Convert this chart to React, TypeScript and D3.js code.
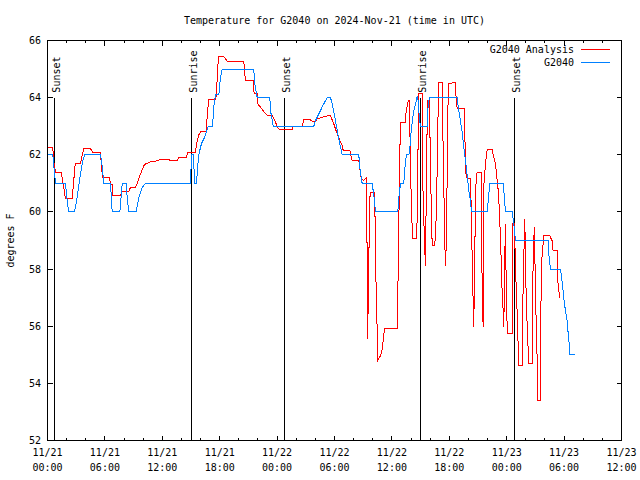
import React from "react";
import * as d3 from "d3";

// ---------- data (hours since 2024-11-21 00:00 UTC, degrees F) ----------
const analysisHours = [
  0.0, 0.55, 0.68, 0.84, 1.46, 1.57, 1.7, 1.88, 2.58, 2.72, 2.9, 3.45, 3.52, 3.79, 4.49, 4.78, 5.54, 5.64, 5.75,
  6.48, 6.59, 6.76, 6.83, 7.63, 7.77, 8.5, 8.68, 9.2, 9.38, 9.72, 10.07, 10.24, 10.77, 11.29, 11.81, 12.68, 12.86,
  13.56, 13.72, 14.53, 14.66, 15.47, 15.57, 15.81, 16.07, 16.62, 16.69, 16.86, 17.56, 17.66, 17.8, 17.91, 18.43,
  18.61, 18.78, 20.52, 20.62, 20.7, 21.5, 21.56, 21.64, 21.92, 21.98, 22.26, 22.61, 23.03, 23.49, 23.83, 24.07,
  24.35, 25.58, 25.68, 26.62, 26.79, 27.49, 27.67, 28.01, 28.19, 28.54, 29.06, 29.58, 29.76, 29.93, 30.1, 30.28,
  30.55, 30.8, 30.91, 31.6, 31.85, 32.54, 32.64, 32.79, 33.06, 33.34, 33.41, 33.47, 33.57, 33.72, 34.2, 34.31,
  34.42, 34.53, 34.63, 34.81, 34.99, 35.15, 35.23, 36.55, 36.62, 36.72, 36.82, 36.9, 37.42, 37.49, 37.73, 37.84,
  37.94, 38.15, 38.57, 38.68, 38.78, 39.17, 39.23, 39.41, 39.51, 39.62, 39.72, 39.93, 40.03, 40.21, 40.48, 40.66,
  40.8, 40.9, 41.26, 41.29, 41.42, 41.53, 41.6, 41.71, 41.84, 41.95, 42.65, 42.72, 42.82, 43.59, 43.69, 43.87,
  44.21, 44.28, 44.38, 44.49, 44.55, 44.66, 44.73, 44.91, 45.33, 45.39, 45.46, 45.54, 45.6, 45.78, 45.96, 46.48,
  46.65, 46.83, 46.93, 47.07, 47.17, 47.35, 47.53, 47.63, 47.7, 47.77, 47.87, 47.98, 48.11, 48.57, 48.64, 48.81,
  48.92, 49.09, 49.26, 49.62, 49.72, 49.89, 50.03, 50.14, 50.31, 50.67, 50.77, 50.9, 51.01, 51.18, 51.25, 51.53,
  51.56, 51.6, 51.88, 52.5, 52.65, 52.74, 52.85, 53.28, 53.34, 53.45, 53.55, 53.62,
];
const analysisTemps = [
  62.24, 62.24, 61.7, 61.38, 61.38, 61.1, 60.87, 60.46, 60.46, 61.0, 61.71, 61.71, 61.82, 62.21, 62.21, 62.07,
  62.07, 61.6, 61.22, 61.22, 60.96, 60.96, 60.58, 60.58, 60.71, 60.71, 60.87, 60.87, 61.0, 61.33, 61.62, 61.68,
  61.75, 61.78, 61.83, 61.83, 61.8, 61.8, 61.92, 61.92, 62.07, 62.07, 62.38, 62.7, 62.83, 62.83, 63.37, 63.92,
  63.92, 64.13, 65.12, 65.44, 65.44, 65.36, 65.28, 65.28, 64.83, 64.6, 64.6, 64.25, 64.13, 64.13, 63.78, 63.67,
  63.51, 63.37, 63.37, 63.14, 62.94, 62.87, 62.87, 62.99, 62.99, 63.22, 63.22, 63.18, 63.18, 63.25, 63.29, 63.35,
  63.37, 63.22, 63.08, 62.91, 62.73, 62.5, 62.33, 62.15, 62.15, 61.8, 61.8, 61.54, 61.16, 61.1, 61.2, 58.5, 55.56,
  58.1, 60.67, 60.67, 58.0, 56.4, 54.8, 54.86, 54.97, 55.2, 55.67, 55.93, 55.93, 57.13, 59.47, 61.92, 63.14, 63.14,
  63.55, 63.9, 63.9, 61.5, 59.06, 59.06, 60.2, 64.13, 64.13, 61.0, 58.88, 58.1, 61.5, 63.9, 63.9, 61.5, 58.82,
  58.82, 60.0, 63.0, 64.54, 64.54, 63.5, 61.0, 58.94, 58.12, 59.1, 63.5, 64.48, 64.54, 63.9, 63.62, 63.62, 61.4,
  61.16, 61.16, 60.28, 58.59, 56.9, 55.97, 58.0, 60.75, 61.39, 61.39, 58.6, 56.9, 55.97, 60.87, 61.68, 62.17,
  62.17, 61.92, 61.68, 61.33, 60.92, 60.46, 59.12, 57.13, 56.55, 55.97, 57.95, 59.58, 56.5, 55.73, 55.73, 59.58,
  59.58, 58.0, 56.5, 54.62, 54.62, 57.5, 59.76, 57.13, 56.0, 54.68, 54.68, 58.65, 59.47, 57.1, 54.9, 53.4, 53.4,
  54.1, 58.07, 59.17, 59.17, 59.06, 59.0, 58.65, 58.65, 57.6, 57.25, 57.02, 57.02,
];

const observedHours = [
  0.0, 0.55, 0.84, 1.88, 1.99, 2.2, 2.82, 3.1, 3.38, 3.63, 3.87, 5.54, 5.72, 5.88, 6.59, 6.76, 7.56, 7.81, 8.23,
  8.33, 8.5, 9.27, 9.54, 9.9, 10.24, 14.95, 15.05, 15.26, 15.37, 15.57, 15.68, 15.81, 16.1, 16.34, 16.8, 17.25,
  17.38, 17.56, 17.91, 18.08, 18.26, 21.56, 21.64, 21.92, 23.24, 23.31, 23.59, 27.84, 28.01, 28.36, 28.71, 29.06,
  29.24, 29.58, 29.76, 29.93, 30.1, 30.28, 30.45, 30.63, 30.8, 32.54, 32.64, 32.89, 33.94, 34.04, 34.18, 34.28,
  36.62, 36.72, 36.9, 37.24, 37.32, 37.42, 37.53, 37.77, 37.87, 37.94, 38.02, 38.12, 38.23, 38.29, 38.47, 38.64,
  38.71, 38.81, 38.92, 38.99, 39.69, 39.75, 39.86, 39.96, 42.82, 42.89, 42.99, 43.17, 43.35, 43.51, 43.69, 43.87,
  44.04, 44.21, 44.32, 45.96, 46.13, 46.23, 47.63, 47.7, 47.8, 47.91, 48.57, 48.74, 48.92, 52.34, 52.4, 52.58,
  53.62, 53.73, 53.86, 53.97, 54.14, 54.32, 54.43, 54.53, 54.6, 55.19,
];
const observedTemps = [
  62.0, 62.0, 61.0, 61.0, 60.6, 60.0, 60.0, 60.5, 61.2, 61.7, 62.0, 62.0, 61.6, 61.0, 61.0, 60.0, 60.0, 61.0, 61.0,
  60.5, 60.0, 60.0, 60.5, 60.85, 61.0, 61.0, 62.0, 62.0, 61.0, 61.0, 61.5, 62.0, 62.4, 62.55, 63.0, 63.0, 63.67,
  64.1, 64.1, 64.7, 65.0, 65.0, 64.55, 64.0, 64.0, 63.55, 63.0, 63.0, 63.2, 63.43, 63.67, 63.9, 64.0, 64.0, 63.78,
  63.49, 63.2, 62.87, 62.56, 62.27, 62.0, 62.0, 61.57, 61.0, 61.0, 60.75, 60.4, 60.0, 60.0, 60.5, 61.0, 61.0,
  61.33, 61.8, 62.0, 62.0, 62.2, 62.5, 62.85, 63.14, 63.43, 63.55, 63.78, 64.05, 64.0, 63.55, 63.14, 63.0, 63.0,
  63.55, 63.9, 64.0, 64.0, 63.8, 63.55, 63.17, 62.79, 62.27, 61.8, 61.27, 60.75, 60.4, 60.0, 60.0, 60.63, 61.0,
  61.0, 60.75, 60.28, 60.0, 60.0, 59.58, 59.0, 59.0, 58.53, 58.0, 58.0, 57.72, 57.37, 56.96, 56.55, 56.2, 55.73,
  55.38, 55.0, 55.0,
];

const eventHours = [0.77, 15.0, 24.8, 39.0, 48.85];
const eventLabels = ["Sunset", "Sunrise", "Sunset", "Sunrise", "Sunset"];

const yTicks = [52, 54, 56, 58, 60, 62, 64, 66];
const seriesNames = ["G2040 Analysis", "G2040"];
const seriesColors = ["#ff0000", "#0080ff"];
const titleText = "Temperature for G2040 on 2024-Nov-21 (time in UTC)";
const yLabelText = "degrees F";

const BASE = Date.UTC(2024, 10, 21, 0, 0);
const END = Date.UTC(2024, 10, 23, 12, 0);
const toDate = (h: number) => new Date(BASE + h * 3600000);

export default function App() {
  const W = 640;
  const H = 480;
  const left = 47.5;
  const right = 621.5;
  const top = 40.5;
  const bottom = 440.5;
  const font = "'DejaVu Sans Mono', monospace";

  const x = d3.scaleUtc().domain([new Date(BASE), new Date(END)]).range([left, right]);
  const y = d3.scaleLinear().domain([52, 66]).range([bottom, top]);

  const line = d3
    .line<[Date, number]>()
    .x((d) => x(d[0]))
    .y((d) => y(d[1]));

  const analysis: [Date, number][] = analysisHours.map((h, i) => [toDate(h), analysisTemps[i]]);
  const observed: [Date, number][] = observedHours.map((h, i) => [toDate(h), observedTemps[i]]);

  const majorX = d3.utcHour.every(6)!.range(new Date(BASE), new Date(END + 1));
  const minorX = d3.utcHour.every(2)!.range(new Date(BASE), new Date(END + 1)).filter((d) => d.getUTCHours() % 6 !== 0);
  const fmtDay = d3.utcFormat("%m/%d");
  const fmtTime = d3.utcFormat("%H:%M");
  const px = (v: number) => Math.round(v - 0.5) + 0.5;

  return (
    <svg width={W} height={H} style={{ display: "block", position: "absolute", left: 0, top: 0, background: "#fff" }}>
      <rect x={0} y={0} width={W} height={H} fill="#fff" />
      <text x={(left + right) / 2} y={24} textAnchor="middle" fontFamily={font} fontSize={10} fill="#000">
        {titleText}
      </text>
      <text
        transform={`translate(14,${(top + bottom) / 2}) rotate(-90)`}
        textAnchor="middle"
        fontFamily={font}
        fontSize={10}
        fill="#000"
      >
        {yLabelText}
      </text>

      {/* y ticks */}
      {yTicks.map((t) => (
        <g key={"y" + t}>
          <line x1={left} x2={left + 5} y1={px(y(t))} y2={px(y(t))} stroke="#000" shapeRendering="crispEdges" />
          <line x1={right - 5} x2={right} y1={px(y(t))} y2={px(y(t))} stroke="#000" shapeRendering="crispEdges" />
          <text x={41} y={y(t) + 3.5} textAnchor="end" fontFamily={font} fontSize={10} fill="#000">
            {t}
          </text>
        </g>
      ))}

      {/* x ticks */}
      {majorX.map((d, i) => (
        <g key={"xm" + i}>
          <line x1={px(x(d))} x2={px(x(d))} y1={bottom} y2={bottom - 5} stroke="#000" shapeRendering="crispEdges" />
          <line x1={px(x(d))} x2={px(x(d))} y1={top} y2={top + 5} stroke="#000" shapeRendering="crispEdges" />
          <text x={x(d)} y={456} textAnchor="middle" fontFamily={font} fontSize={10} fill="#000">
            {fmtDay(d)}
          </text>
          <text x={x(d)} y={471} textAnchor="middle" fontFamily={font} fontSize={10} fill="#000">
            {fmtTime(d)}
          </text>
        </g>
      ))}
      {minorX.map((d, i) => (
        <g key={"xn" + i}>
          <line x1={px(x(d))} x2={px(x(d))} y1={bottom} y2={bottom - 2.5} stroke="#000" shapeRendering="crispEdges" />
          <line x1={px(x(d))} x2={px(x(d))} y1={top} y2={top + 2.5} stroke="#000" shapeRendering="crispEdges" />
        </g>
      ))}

      {/* sunrise / sunset markers */}
      {eventHours.map((h, i) => {
        const ex = px(x(toDate(h)));
        return (
          <g key={"ev" + i}>
            <line x1={ex} x2={ex} y1={bottom} y2={y(64)} stroke="#000" shapeRendering="crispEdges" />
            <text
              transform={`translate(${ex + 5.5},${y(64) - 5}) rotate(-90)`}
              textAnchor="start"
              fontFamily={font}
              fontSize={10}
              fill="#000"
            >
              {eventLabels[i]}
            </text>
          </g>
        );
      })}

      {/* data */}
      <path d={line(analysis) ?? ""} fill="none" stroke={seriesColors[0]} strokeWidth={1} shapeRendering="crispEdges" />
      <path d={line(observed) ?? ""} fill="none" stroke={seriesColors[1]} strokeWidth={1} shapeRendering="crispEdges" />

      {/* legend */}
      {seriesNames.map((n, i) => (
        <g key={"lg" + i}>
          <text x={574} y={53 + i * 13} textAnchor="end" fontFamily={font} fontSize={10} fill="#000">
            {n}
          </text>
          <line x1={581} x2={610} y1={49.5 + i * 13} y2={49.5 + i * 13} stroke={seriesColors[i]} shapeRendering="crispEdges" />
        </g>
      ))}

      {/* border */}
      <rect x={left} y={top} width={right - left} height={bottom - top} fill="none" stroke="#000" shapeRendering="crispEdges" />
    </svg>
  );
}
